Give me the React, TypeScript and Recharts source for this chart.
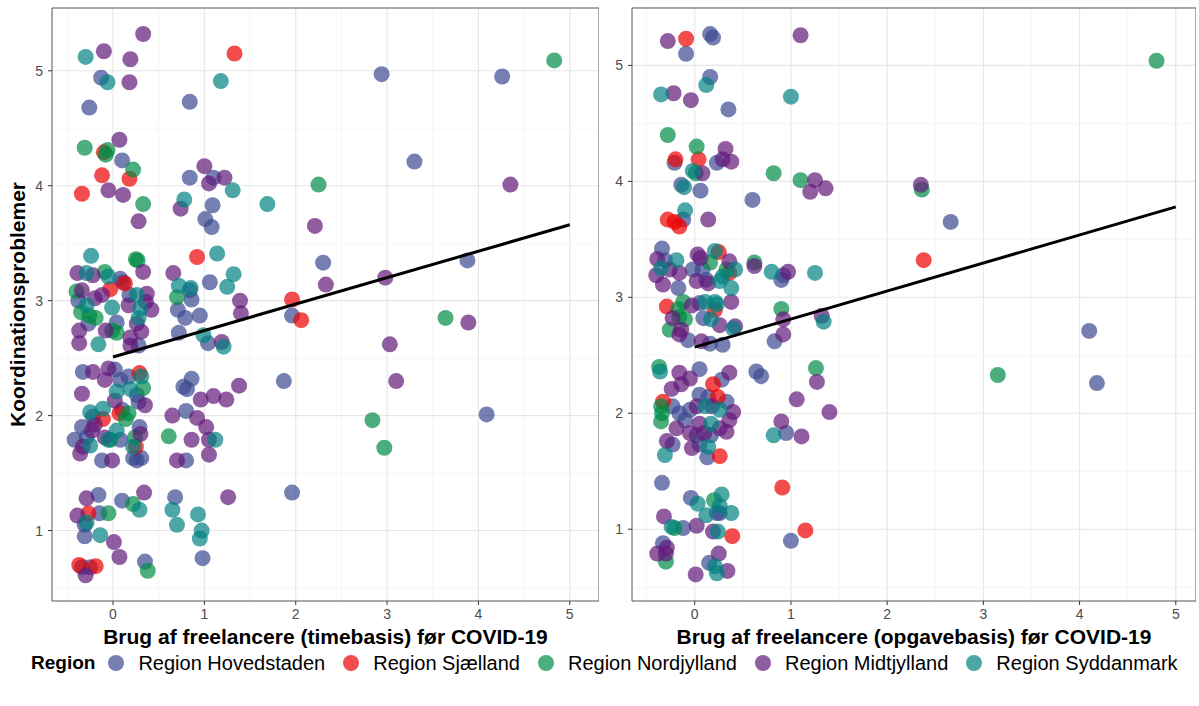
import { ScatterChart, Scatter, XAxis, YAxis, CartesianGrid, ReferenceArea } from 'recharts';

type Pt = [number, number];

const regions = ['Region Hovedstaden', 'Region Sjælland', 'Region Nordjylland', 'Region Midtjylland', 'Region Syddanmark'];
const regionColors = ['#3B4992', '#EE0000', '#008B45', '#631879', '#008280'];

// Brug af freelancere (timebasis) – left panel
const timeHovedstaden: Pt[] = [
  [-0.13, 4.94], [-0.26, 4.68], [0.84, 4.73], [2.94, 4.97], [4.26, 4.95], [3.3, 4.21], [0.1, 4.22],
  [0.84, 4.07], [1.1, 4.07], [1.09, 3.83], [1.01, 3.71], [1.08, 3.64], [2.3, 3.33], [3.88, 3.35],
  [1.96, 2.87], [1.87, 2.3], [4.09, 2.01], [1.96, 1.33], [0.86, 2.32], [0.77, 2.25], [0.81, 2.23],
  [0.8, 2.04], [0.8, 1.61], [0.68, 1.29], [0.98, 0.76], [-0.16, 1.31], [0.1, 1.26], [-0.15, 1.15],
  [-0.31, 1.05], [-0.31, 0.95], [-0.34, 0.68], [-0.25, 0.68], [0.35, 0.73], [0.08, 3.19], [0.11, 3.16],
  [1.06, 3.16], [0.84, 3.09], [0.86, 3.01], [0.71, 2.92], [0.79, 2.85], [0.95, 2.87], [0.72, 2.72],
  [1.04, 2.63], [-0.38, 3.0], [0.18, 3.05], [-0.27, 2.8], [0.04, 2.81], [0.28, 2.61], [-0.33, 2.38],
  [0.02, 2.4], [0.08, 2.31], [0.17, 2.34], [0.26, 2.18], [0.28, 2.12], [0.1, 2.05], [-0.22, 1.99],
  [-0.34, 1.9], [-0.42, 1.79], [-0.29, 1.81], [0.08, 1.79], [0.29, 1.9], [-0.12, 1.61], [0.22, 1.63],
  [0.31, 1.63], [0.26, 1.61],
];
const timeSjaelland: Pt[] = [
  [1.33, 5.15], [-0.1, 4.29], [-0.12, 4.09], [0.18, 4.06], [-0.34, 3.93], [0.92, 3.38], [1.96, 3.01],
  [2.06, 2.83], [-0.03, 3.1], [0.13, 3.15], [0.29, 2.37], [-0.11, 1.97], [0.07, 2.02], [0.25, 1.73],
  [-0.27, 1.15], [-0.37, 0.7], [-0.19, 0.69],
];
const timeNordjylland: Pt[] = [
  [4.83, 5.09], [-0.31, 4.33], [-0.06, 4.31], [-0.08, 4.27], [0.22, 4.14], [0.33, 3.84], [2.25, 4.01],
  [3.64, 2.85], [2.84, 1.96], [2.97, 1.72], [0.61, 1.82], [0.25, 3.36], [0.27, 3.35], [-0.09, 3.25],
  [0.7, 3.03], [-0.4, 3.08], [-0.35, 2.9], [-0.26, 2.87], [-0.19, 2.85], [-0.01, 2.74], [0.04, 2.72],
  [0.33, 2.24], [0.17, 2.02], [0.14, 1.97], [-0.03, 1.79], [0.24, 1.81], [0.22, 1.23], [-0.05, 1.15],
  [0.38, 0.65],
];
const timeMidtjylland: Pt[] = [
  [-0.1, 5.17], [0.33, 5.32], [0.19, 5.1], [0.18, 4.9], [0.07, 4.4], [-0.05, 3.96], [0.11, 3.92],
  [0.28, 3.69], [1.0, 4.17], [1.05, 4.02], [1.22, 4.07], [0.74, 3.8], [4.35, 4.01], [2.21, 3.65],
  [2.33, 3.14], [2.98, 3.2], [3.89, 2.81], [3.03, 2.62], [3.1, 2.3], [1.26, 1.29], [1.38, 2.26],
  [1.24, 2.14], [1.1, 2.17], [0.96, 2.14], [0.65, 2.0], [0.92, 1.98], [1.02, 1.9], [1.05, 1.79],
  [0.86, 1.79], [0.7, 1.61], [1.05, 1.66], [-0.29, 1.28], [0.34, 1.33], [-0.39, 1.13], [0.01, 0.9],
  [0.07, 0.77], [-0.3, 0.61], [-0.39, 3.24], [-0.22, 3.22], [0.33, 3.25], [0.66, 3.24], [1.39, 3.0],
  [1.4, 2.89], [1.19, 2.64], [-0.34, 3.09], [-0.12, 3.05], [-0.2, 3.02], [0.17, 2.96], [0.37, 3.06],
  [0.36, 2.99], [0.42, 2.92], [-0.37, 2.74], [-0.37, 2.63], [-0.08, 2.74], [0.26, 2.8], [0.31, 2.73],
  [0.19, 2.68], [0.19, 2.61], [-0.22, 2.38], [-0.05, 2.41], [-0.09, 2.31], [-0.34, 2.19], [0.02, 2.13],
  [0.35, 2.09], [-0.2, 1.92], [-0.23, 1.87], [-0.09, 1.81], [0.3, 1.84], [-0.33, 1.73], [-0.36, 1.67],
  [-0.01, 1.61],
];
const timeSyddanmark: Pt[] = [
  [-0.3, 5.12], [-0.06, 4.9], [1.18, 4.91], [1.31, 3.96], [0.78, 3.88], [1.69, 3.84], [1.12, 1.79],
  [0.65, 1.18], [0.7, 1.05], [0.93, 1.14], [0.97, 1.0], [0.95, 0.93], [0.29, 1.18], [-0.29, 1.07],
  [-0.14, 0.96], [-0.24, 3.39], [1.14, 3.41], [-0.29, 3.24], [-0.05, 3.21], [1.32, 3.23], [1.25, 3.12],
  [0.72, 3.13], [0.85, 3.11], [0.99, 2.7], [1.21, 2.6], [-0.29, 2.96], [-0.01, 2.94], [0.26, 3.05],
  [0.3, 2.93], [0.28, 2.85], [-0.16, 2.62], [0.31, 2.34], [0.19, 2.23], [0.04, 2.21], [-0.25, 2.03],
  [-0.11, 2.06], [0.04, 1.87], [-0.05, 1.79], [0.22, 1.73], [-0.25, 1.74],
];

// Brug af freelancere (opgavebasis) – right panel
const opgaveHovedstaden: Pt[] = [
  [-0.09, 5.1], [0.16, 5.27], [0.19, 5.24], [0.16, 4.9], [0.35, 4.62], [-0.21, 4.16], [0.23, 4.16],
  [-0.14, 3.97], [0.06, 3.92], [0.6, 3.84], [-0.12, 3.67], [2.66, 3.65], [4.1, 2.71], [4.18, 2.26],
  [1.0, 0.9], [-0.34, 3.42], [-0.31, 3.32], [-0.17, 3.08], [-0.02, 3.24], [0.08, 3.24], [0.12, 3.15],
  [0.9, 3.15], [0.92, 3.19], [0.05, 2.95], [0.09, 2.82], [-0.07, 2.63], [0.16, 2.6], [0.29, 2.59],
  [0.83, 2.62], [0.05, 2.38], [0.28, 2.29], [0.64, 2.36], [0.69, 2.32], [0.05, 2.16], [-0.23, 2.06],
  [-0.16, 2.0], [-0.05, 2.03], [0.14, 2.14], [0.33, 2.1], [-0.1, 1.94], [0.02, 1.81], [0.17, 1.81],
  [-0.23, 1.73], [0.05, 1.73], [0.13, 1.62], [0.95, 1.83], [-0.34, 1.4], [-0.04, 1.27], [0.26, 1.14],
  [0.23, 1.14], [-0.12, 1.01], [-0.33, 0.88], [0.15, 0.71],
];
const opgaveSjaelland: Pt[] = [
  [-0.09, 5.23], [-0.2, 4.19], [0.04, 4.19], [-0.28, 3.67], [-0.21, 3.65], [-0.16, 3.61], [2.38, 3.32],
  [0.91, 1.36], [1.15, 0.99], [0.25, 3.39], [0.36, 3.21], [-0.29, 2.92], [0.21, 2.89], [0.19, 2.25],
  [0.24, 2.14], [-0.33, 2.1], [0.26, 1.63], [0.39, 0.94],
];
const opgaveNordjylland: Pt[] = [
  [4.8, 5.04], [-0.28, 4.4], [0.02, 4.3], [0.01, 4.07], [0.82, 4.07], [1.1, 4.01], [2.36, 3.93],
  [3.15, 2.33], [0.16, 3.3], [0.33, 3.24], [0.62, 3.3], [-0.12, 2.96], [-0.17, 2.9], [-0.16, 2.83],
  [-0.1, 2.81], [-0.26, 2.72], [0.9, 2.9], [-0.37, 2.4], [1.26, 2.39], [-0.35, 2.06], [-0.34, 2.0],
  [-0.35, 1.93], [0.2, 1.25], [-0.21, 1.01], [-0.3, 0.72],
];
const opgaveMidtjylland: Pt[] = [
  [-0.28, 5.21], [1.1, 5.26], [-0.22, 4.76], [-0.04, 4.7], [0.32, 4.28], [0.29, 4.19], [0.38, 4.17],
  [0.08, 4.07], [1.25, 4.01], [1.2, 3.91], [1.36, 3.94], [0.14, 3.67], [2.35, 3.97], [-0.39, 3.33],
  [-0.4, 3.19], [-0.26, 3.24], [-0.16, 3.21], [-0.33, 3.11], [0.03, 3.37], [0.06, 3.34], [0.36, 3.31],
  [0.02, 3.14], [0.14, 3.12], [0.62, 3.27], [0.97, 3.22], [-0.03, 2.93], [0.38, 2.96], [-0.23, 2.82],
  [0.26, 2.76], [-0.14, 2.72], [-0.16, 2.68], [0.07, 2.62], [0.42, 2.75], [0.92, 2.81], [0.92, 2.68],
  [1.32, 2.84], [-0.16, 2.35], [-0.05, 2.3], [0.36, 2.35], [1.27, 2.27], [-0.24, 2.21], [-0.14, 2.25],
  [0.02, 2.06], [0.18, 2.06], [0.4, 2.01], [0.36, 1.94], [-0.19, 1.87], [0.05, 1.91], [0.26, 1.87],
  [0.33, 1.84], [-0.05, 1.83], [0.1, 1.83], [-0.29, 1.76], [-0.03, 1.7], [0.9, 1.93], [1.11, 1.8],
  [1.06, 2.12], [1.4, 2.01], [-0.32, 1.11], [0.02, 1.03], [0.19, 0.98], [-0.29, 0.84], [-0.39, 0.79],
  [-0.3, 0.79], [0.25, 0.79], [0.34, 0.64], [0.01, 0.61],
];
const opgaveSyddanmark: Pt[] = [
  [0.12, 4.83], [-0.35, 4.75], [1.0, 4.73], [-0.02, 4.09], [-0.11, 3.95], [-0.1, 3.75], [-0.19, 3.32],
  [-0.35, 3.25], [0.21, 3.4], [0.42, 3.24], [0.29, 3.18], [0.26, 3.14], [0.38, 3.08], [0.8, 3.22],
  [1.25, 3.21], [0.11, 2.96], [0.21, 2.96], [0.23, 2.94], [0.17, 2.81], [0.4, 2.73], [1.34, 2.79],
  [-0.36, 2.36], [0.11, 2.06], [0.26, 2.03], [0.17, 1.91], [0.14, 1.71], [-0.31, 1.64], [0.82, 1.81],
  [0.03, 1.22], [0.28, 1.3], [0.26, 1.2], [0.12, 1.12], [0.38, 1.14], [-0.24, 1.02], [0.24, 0.98],
  [0.21, 0.68], [0.23, 0.62],
];

// lm fit lines
const timeFit: Pt[] = [[0, 2.51], [5, 3.66]];
const opgaveFit: Pt[] = [[0, 2.57], [5, 3.78]];

const xTicks = [0, 1, 2, 3, 4, 5];
const xMinor = [-0.5, 0.5, 1.5, 2.5, 3.5, 4.5];
const yTicks = [1, 2, 3, 4, 5];
const yMinor = [0.5, 1.5, 2.5, 3.5, 4.5, 5.5];

const toRows = (pts: Pt[]) => pts.map(([x, y]) => ({ x, y }));

const dot = (color: string) => (props: any) => (
  <circle cx={props.cx} cy={props.cy} r={8} fill={color} fillOpacity={0.7} />
);

interface PanelProps {
  series: Pt[][];
  fit: Pt[];
  xDomain: [number, number];
  yDomain: [number, number];
  width: number;
  yAxisWidth: number;
  xLabel: string;
  yLabel?: string;
}

function Panel({ series, fit, xDomain, yDomain, width, yAxisWidth, xLabel, yLabel }: PanelProps) {
  return (
    <ScatterChart width={width} height={651} margin={{ top: 8, right: 0, bottom: 0, left: 0 }}>
      <CartesianGrid stroke="#f0f0f0" strokeWidth={0.6} horizontalValues={yMinor} verticalValues={xMinor} />
      <CartesianGrid stroke="#e6e6e6" strokeWidth={1.1} horizontalValues={yTicks} verticalValues={xTicks} />
      <XAxis
        type="number"
        dataKey="x"
        domain={xDomain}
        allowDataOverflow
        ticks={xTicks}
        height={50}
        axisLine={false}
        tickLine={{ stroke: '#333' }}
        tickSize={4}
        tickMargin={4}
        tick={{ fontSize: 14, fill: '#4d4d4d' }}
        label={{
          value: xLabel,
          position: 'insideBottom',
          offset: 7,
          style: { fontSize: 21, fontWeight: 'bold', fill: '#000' },
        }}
      />
      <YAxis
        type="number"
        dataKey="y"
        domain={yDomain}
        allowDataOverflow
        ticks={yTicks}
        width={yAxisWidth}
        axisLine={false}
        tickLine={{ stroke: '#333' }}
        tickSize={4}
        tickMargin={5}
        tick={{ fontSize: 14, fill: '#4d4d4d' }}
        label={
          yLabel
            ? {
                value: yLabel,
                angle: -90,
                position: 'insideLeft',
                offset: 18,
                style: { fontSize: 21, fontWeight: 'bold', fill: '#000', textAnchor: 'middle' },
              }
            : undefined
        }
      />
      {series.map((pts, i) => (
        <Scatter
          key={regions[i]}
          name={regions[i]}
          data={toRows(pts)}
          fill={regionColors[i]}
          shape={dot(regionColors[i])}
          isAnimationActive={false}
        />
      ))}
      <Scatter
        data={toRows(fit)}
        fill="#000"
        stroke="#000"
        line={{ stroke: '#000', strokeWidth: 3 }}
        shape={() => <g />}
        isAnimationActive={false}
      />
      <ReferenceArea
        x1={xDomain[0]}
        x2={xDomain[1]}
        y1={yDomain[0]}
        y2={yDomain[1]}
        fill="none"
        stroke="#555"
        strokeWidth={1}
        ifOverflow="visible"
      />
    </ScatterChart>
  );
}

export default function App() {
  return (
    <div
      style={{
        position: 'absolute',
        left: 0,
        top: 0,
        width: 1199,
        height: 706,
        background: '#fff',
        fontFamily: '"Liberation Sans", Arial, sans-serif',
      }}
    >
      <div style={{ position: 'absolute', left: 0, top: 0 }}>
        <Panel
          series={[timeHovedstaden, timeSjaelland, timeNordjylland, timeMidtjylland, timeSyddanmark]}
          fit={timeFit}
          xDomain={[-0.668, 5.32]}
          yDomain={[0.387, 5.546]}
          width={599}
          yAxisWidth={52}
          xLabel="Brug af freelancere (timebasis) før COVID-19"
          yLabel="Koordinationsproblemer"
        />
      </div>
      <div style={{ position: 'absolute', left: 600, top: 0 }}>
        <Panel
          series={[opgaveHovedstaden, opgaveSjaelland, opgaveNordjylland, opgaveMidtjylland, opgaveSyddanmark]}
          fit={opgaveFit}
          xDomain={[-0.652, 5.21]}
          yDomain={[0.381, 5.495]}
          width={596}
          yAxisWidth={32}
          xLabel="Brug af freelancere (opgavebasis) før COVID-19"
        />
      </div>
      <div
        style={{
          position: 'absolute',
          left: 31,
          top: 650,
          height: 26,
          display: 'flex',
          alignItems: 'center',
        }}
      >
        <span style={{ fontSize: 19, fontWeight: 'bold', marginRight: 9 }}>Region</span>
        {regions.map((r, i) => (
          <div key={r} style={{ display: 'flex', alignItems: 'center', marginRight: 14 }}>
            <svg width={24} height={24}>
              <circle cx={12} cy={12} r={8} fill={regionColors[i]} fillOpacity={0.7} />
            </svg>
            <span style={{ fontSize: 20, marginLeft: 10, whiteSpace: 'nowrap' }}>{r}</span>
          </div>
        ))}
      </div>
    </div>
  );
}
